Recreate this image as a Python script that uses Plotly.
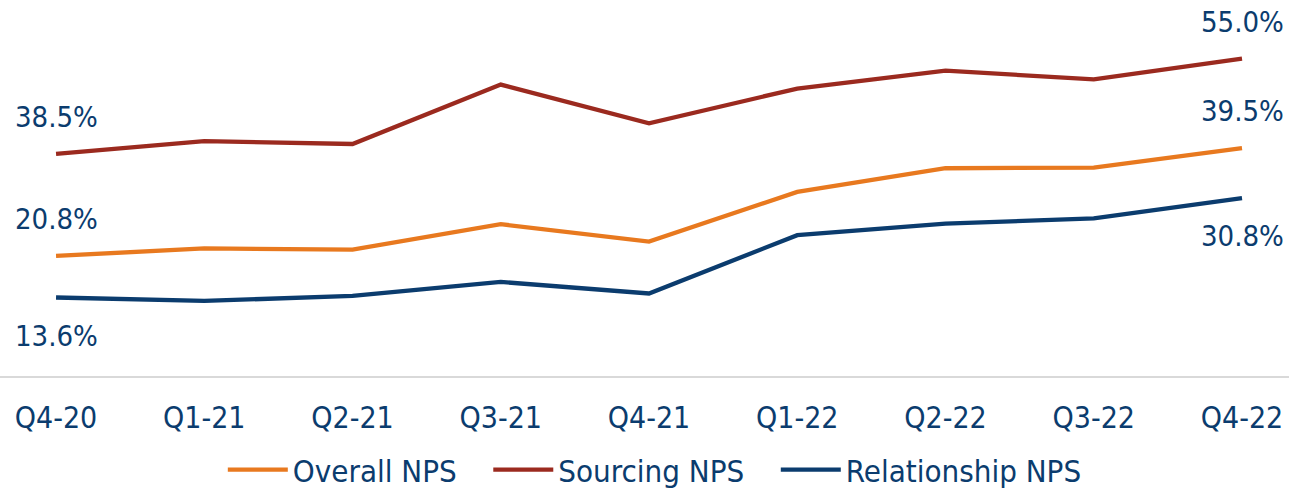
import plotly.graph_objects as go

quarters = ["Q4-20", "Q1-21", "Q2-21", "Q3-21", "Q4-21", "Q1-22", "Q2-22", "Q3-22", "Q4-22"]
overall_nps = [20.8, 22.1, 21.9, 26.3, 23.3, 31.9, 36.0, 36.1, 39.5]
sourcing_nps = [38.5, 40.7, 40.2, 50.5, 43.8, 49.8, 52.9, 51.4, 55.0]
relationship_nps = [13.6, 13.0, 13.9, 16.3, 14.3, 24.4, 26.4, 27.3, 30.8]

series = [
    ("Overall NPS", overall_nps, "#E8791F", 37, "\u00a0\u00a0\u00a0"),
    ("Sourcing NPS", sourcing_nps, "#9B2A1F", 37, "\u00a0\u00a0\u00a0"),
    ("Relationship NPS", relationship_nps, "#0B3C6E", -38, ""),
]

TEXT = "#0B3C6E"
FONT = "DejaVu Sans Condensed"

fig = go.Figure()
for name, vals, color, _, pad in series:
    fig.add_trace(go.Scatter(
        x=list(range(len(quarters))), y=vals, name=name + pad, mode="lines",
        line=dict(color=color, width=4.3),
    ))

annotations = []
for name, vals, color, shift, _ in series:
    for idx in (0, len(vals) - 1):
        annotations.append(dict(
            x=idx, y=vals[idx], xref="x", yref="y",
            text=f"{vals[idx]:.1f}%", showarrow=False,
            xanchor="center", yanchor="middle", yshift=shift,
            font=dict(family=FONT, size=29, color=TEXT),
        ))

fig.update_layout(
    width=1289, height=491,
    margin=dict(l=0, r=0, t=0, b=115, autoexpand=False),
    paper_bgcolor="white", plot_bgcolor="white",
    showlegend=True,
    legend=dict(
        orientation="h", x=0.508, xanchor="center", y=-0.25, yanchor="middle",
        font=dict(family=FONT, size=31, color=TEXT),
        itemwidth=60,
    ),
    annotations=annotations,
    font=dict(family=FONT, size=30, color=TEXT),
)
fig.update_xaxes(
    tickmode="array", tickvals=list(range(len(quarters))), ticktext=quarters,
    range=[-0.378, 8.317], showgrid=False, zeroline=False,
    showline=True, linecolor="#D9D9D9", linewidth=2,
    ticks="", tickfont=dict(family=FONT, size=30, color=TEXT),
    ticklabelstandoff=14, automargin=False,
)
fig.update_yaxes(range=[0, 65.15], visible=False, showgrid=False, zeroline=False, automargin=False)

fig.write_html("out.html", config={"displayModeBar": False},
               post_script="document.body.style.margin='0';")
